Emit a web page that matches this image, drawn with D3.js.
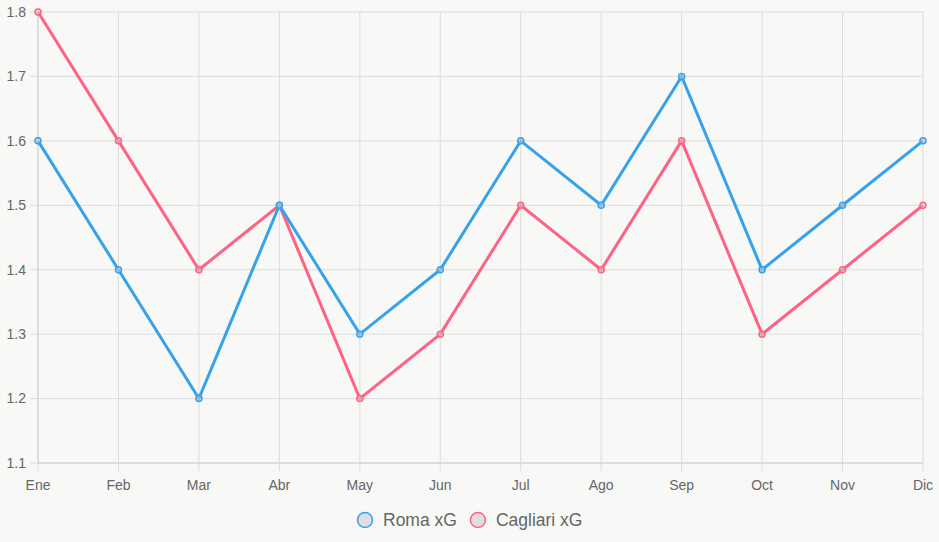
<!DOCTYPE html>
<html>
<head>
<meta charset="utf-8">
<script src="https://cdn.jsdelivr.net/npm/d3@7"></script>
<style>
  body { margin: 0; background: #f8f8f6; }
  svg { display: block; font-family: "Liberation Sans", Arial, sans-serif; }
</style>
</head>
<body>
<div id="chart"></div>
<script>
const months = ["Ene", "Feb", "Mar", "Abr", "May", "Jun", "Jul", "Ago", "Sep", "Oct", "Nov", "Dic"];
const romaXG = [1.6, 1.4, 1.2, 1.5, 1.3, 1.4, 1.6, 1.5, 1.7, 1.4, 1.5, 1.6];
const cagliariXG = [1.8, 1.6, 1.4, 1.5, 1.2, 1.3, 1.5, 1.4, 1.6, 1.3, 1.4, 1.5];
const yTicks = [1.1, 1.2, 1.3, 1.4, 1.5, 1.6, 1.7, 1.8];

const series = [
    { name: "Roma xG", values: romaXG, color: "#36a2eb" },
    { name: "Cagliari xG", values: cagliariXG, color: "#ff6384" }
];

const W = 939, H = 542;
const margin = { top: 12, right: 16, bottom: 79, left: 38 };
const width = W - margin.left - margin.right,
    height = H - margin.top - margin.bottom;

const svg = d3.select("#chart").append("svg")
    .attr("width", W)
    .attr("height", H);

const g = svg.append("g")
    .attr("transform", `translate(${margin.left},${margin.top})`);

const x = d3.scalePoint().domain(months).range([0, width]);
const y = d3.scaleLinear().domain([1.1, 1.8]).range([height, 0]);

// grid lines
g.append("g").selectAll("line")
  .data(yTicks)
  .join("line")
    .attr("x1", -8).attr("x2", width)
    .attr("y1", d => y(d)).attr("y2", d => y(d))
    .attr("stroke", "#dcdcdc").attr("stroke-width", 1);

g.append("g").selectAll("line")
  .data(months)
  .join("line")
    .attr("x1", d => x(d)).attr("x2", d => x(d))
    .attr("y1", 0).attr("y2", height + 8)
    .attr("stroke", "#dcdcdc").attr("stroke-width", 1);

// axis lines
g.append("line").attr("x1", 0).attr("x2", width).attr("y1", height).attr("y2", height)
    .attr("stroke", "#cfcfcf");
g.append("line").attr("x1", 0).attr("x2", 0).attr("y1", 0).attr("y2", height)
    .attr("stroke", "#cfcfcf");

// tick labels
g.append("g").selectAll("text")
  .data(yTicks)
  .join("text")
    .attr("x", -12)
    .attr("y", d => y(d))
    .attr("dy", "0.35em")
    .attr("text-anchor", "end")
    .attr("fill", "#666")
    .attr("font-size", 14)
    .text(d => d.toFixed(1));

g.append("g").selectAll("text")
  .data(months)
  .join("text")
    .attr("x", d => x(d))
    .attr("y", height + 27)
    .attr("text-anchor", "middle")
    .attr("fill", "#666")
    .attr("font-size", 14)
    .text(d => d);

// lines, second dataset drawn first so the first sits on top
const line = d3.line()
    .x((d, i) => x(months[i]))
    .y(d => y(d));

series.slice().reverse().forEach(s => {
    g.append("path")
      .datum(s.values)
      .attr("fill", "none")
      .attr("stroke", s.color)
      .attr("stroke-width", 3)
      .attr("stroke-linejoin", "miter")
      .attr("d", line);

    g.append("g").selectAll("circle")
      .data(s.values)
      .join("circle")
        .attr("cx", (d, i) => x(months[i]))
        .attr("cy", d => y(d))
        .attr("r", 3)
        .attr("fill", "rgba(200,200,200,0.6)")
        .attr("stroke", s.color)
        .attr("stroke-width", 1.5);
});

// legend
const legend = svg.append("g").attr("transform", "translate(365,520)");
let lx = 0;
series.forEach(s => {
    const item = legend.append("g").attr("transform", `translate(${lx},0)`);
    item.append("circle")
        .attr("r", 7.5)
        .attr("fill", "#dedede")
        .attr("stroke", s.color)
        .attr("stroke-width", 1.5);
    const t = item.append("text")
        .attr("x", 18)
        .attr("dy", "0.35em")
        .attr("fill", "#666")
        .attr("font-size", 17.5)
        .text(s.name);
    lx += 18 + t.node().getComputedTextLength() + 21;
});
</script>
</body>
</html>
